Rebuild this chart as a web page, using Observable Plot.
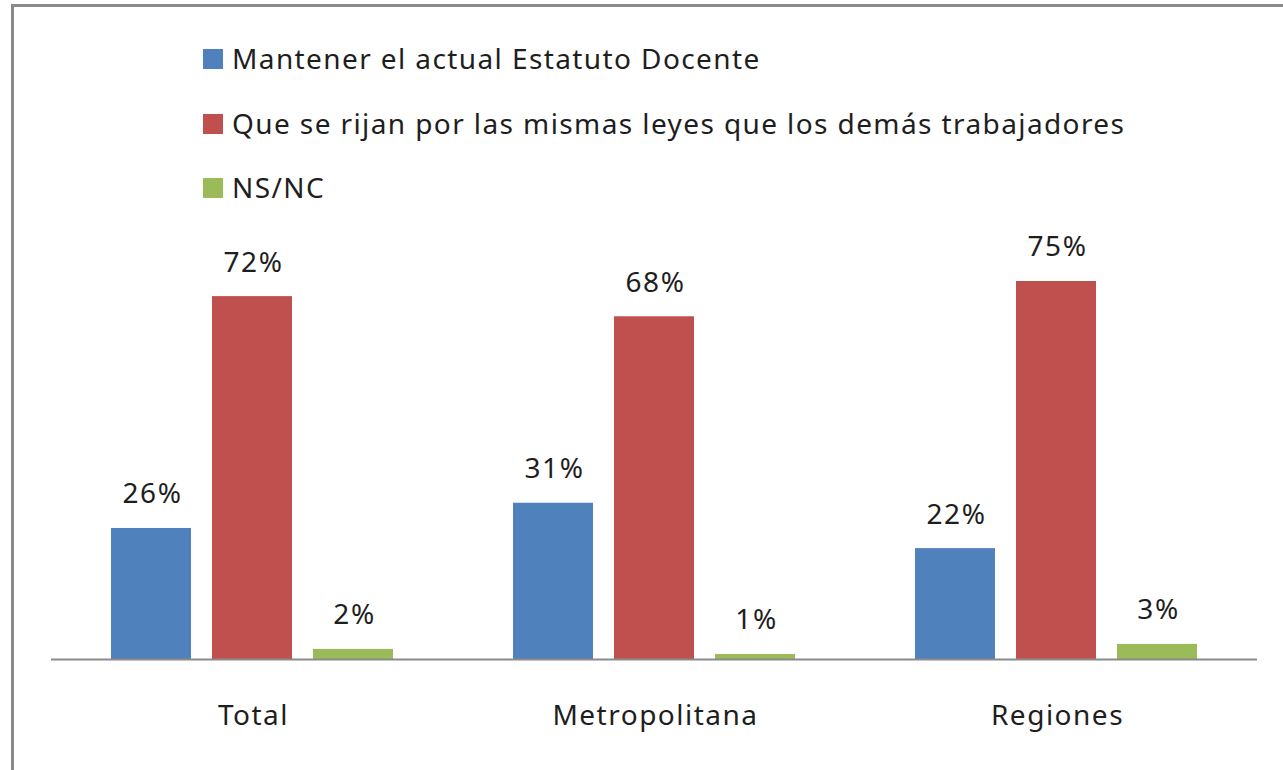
<!DOCTYPE html>
<html>
<head>
<meta charset="utf-8">
<script src="https://cdn.jsdelivr.net/npm/d3@7"></script>
<script src="https://cdn.jsdelivr.net/npm/@observablehq/plot@0.6"></script>
<style>
  html, body { margin: 0; padding: 0; background: #fff; }
  #wrap { position: relative; width: 1283px; height: 770px; overflow: hidden; font-family: "Noto Sans", sans-serif; }
  #frame { position: absolute; left: 11px; top: 4px; width: 1320px; height: 820px; border: 3px solid #8a8a8a; box-sizing: border-box; }
  #chart { position: absolute; left: 0; top: 0; }
  #chart svg text { letter-spacing: 1.5px; }
  #legend { position: absolute; left: 203px; top: 0; }
  .item { position: absolute; left: 0; white-space: nowrap; font-size: 28px; color: #1e1e1e; height: 20px; }
  .sw { position: absolute; left: 0; top: 0; width: 20px; height: 20px; }
  .lbl { position: absolute; left: 29px; top: -11px; line-height: 40px; letter-spacing: 1.4px; }
</style>
</head>
<body>
<div id="wrap">
  <div id="frame"></div>
  <div id="chart"></div>
  <div id="legend"></div>
</div>
<script>
const categories = ["Total", "Metropolitana", "Regiones"];
const series = [
  "Mantener el actual Estatuto Docente",
  "Que se rijan por las mismas leyes que los demás trabajadores",
  "NS/NC"
];
const mantener = [26, 31, 22];
const rijan = [72, 68, 75];
const nsnc = [2, 1, 3];
const colors = ["#4F81BD", "#C0504D", "#9BBB59"];

const seriesValues = [mantener, rijan, nsnc];
const data = categories.flatMap((cat, i) =>
  series.map((s, j) => ({ cat, serie: s, value: seriesValues[j][i] }))
);

const chart = Plot.plot({
  width: 1283,
  height: 770,
  marginLeft: 51,
  marginRight: 26,
  marginTop: 155,
  marginBottom: 111,
  style: { fontFamily: "Noto Sans, sans-serif", fontSize: "28px", color: "#1e1e1e", background: "transparent" },
  fx: { domain: categories, padding: 0, label: null, axis: null },
  x: { domain: series, paddingInner: 0.208, paddingOuter: 0.594, axis: null },
  y: { domain: [0, 100], axis: null },
  color: { domain: series, range: colors },
  marks: [
    Plot.barY(data, { fx: "cat", x: "serie", y: "value", fill: "serie" }),
    Plot.ruleY([0], { stroke: "#8a8a8a", strokeWidth: 2 }),
    Plot.text(data, { fx: "cat", x: "serie", y: "value", text: d => d.value + "%", dy: -34, dx: 1, fontSize: 28, fill: "#1e1e1e" }),
    Plot.axisFx({ anchor: "bottom", tickSize: 0, tickPadding: 46, fontSize: 28, label: null, fill: "#1e1e1e", dx: 1 })
  ]
});
document.getElementById("chart").appendChild(chart);

const legend = document.getElementById("legend");
const rowTops = [49, 114, 178];
series.forEach((s, i) => {
  const item = document.createElement("div");
  item.className = "item";
  item.style.top = rowTops[i] + "px";
  const sw = document.createElement("div");
  sw.className = "sw";
  sw.style.background = colors[i];
  const lbl = document.createElement("div");
  lbl.className = "lbl";
  lbl.textContent = s;
  item.appendChild(sw);
  item.appendChild(lbl);
  legend.appendChild(item);
});
</script>
</body>
</html>
